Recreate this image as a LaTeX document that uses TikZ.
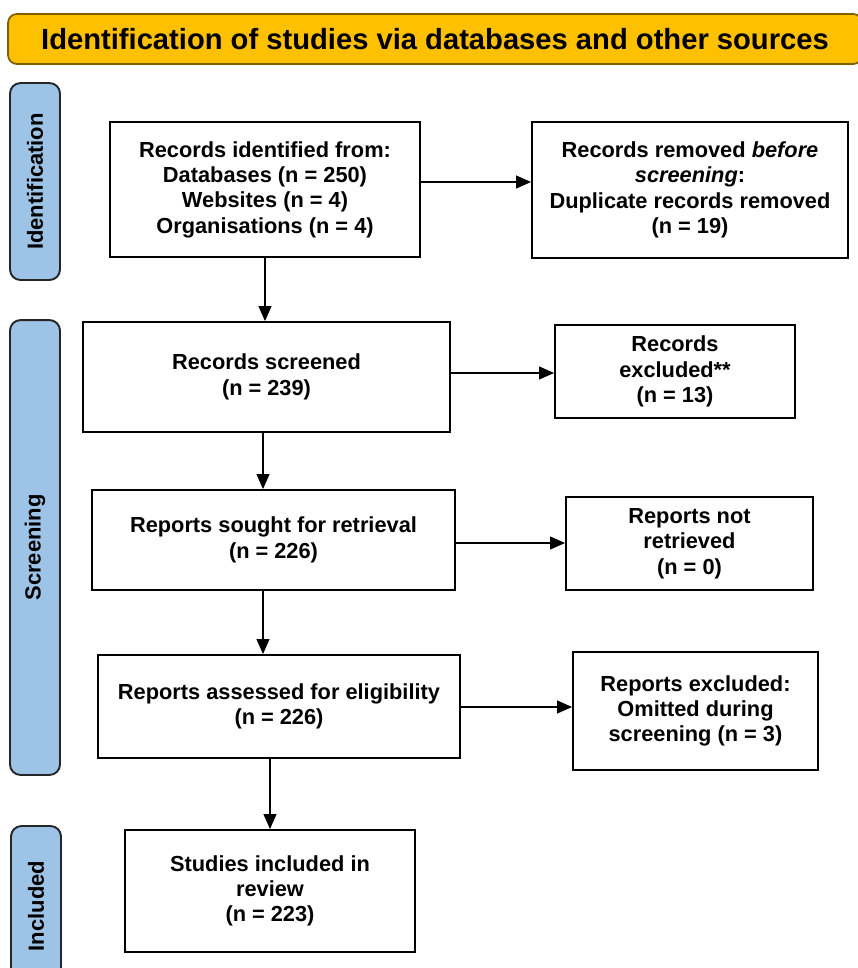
\documentclass[tikz,border=0pt]{standalone}
\usepackage{fontspec}
\setmainfont{Liberation Sans}
\usetikzlibrary{arrows.meta}
\definecolor{headercolor}{RGB}{255,192,0}
\definecolor{headerline}{RGB}{127,96,0}
\definecolor{sidecolor}{RGB}{157,195,230}

\begin{document}
\begin{tikzpicture}[x=0.02cm, y=-0.02cm,
    box/.style={draw, line width=1.1pt, align=center, inner sep=2pt,
      font=\bfseries\fontsize{12.4}{14.4}\selectfont},
    side/.style={draw=black!85, line width=1.1pt, fill=sidecolor, rounded corners=6pt,
      rotate=90, minimum height=1cm, inner sep=0pt,
      font=\bfseries\fontsize{12.5}{15}\selectfont},
    arr/.style={-{Triangle[length=0.3cm, width=0.26cm]}, line width=0.6pt}]
    \clip (0,0) rectangle (858,968);

    % Draw the header
    \node[draw=headerline, line width=1pt, fill=headercolor, rounded corners=5pt,
      minimum width=17.08cm, minimum height=1cm,
      font=\bfseries\fontsize{16.6}{19}\selectfont] (header) at (435,39)
      {Identification of studies via databases and other sources};

    % Phases on the left
    \node[side, minimum width=3.94cm] (ident) at (35,181.5) {Identification};
    \node[side, minimum width=9.1cm] (screen) at (35,547.5) {Screening};
    \node[side, minimum width=3.2cm] (incl) at (36,906) {Included};

    % Main boxes
    \node[box, minimum width=6.2cm, minimum height=2.7cm] (records) at (265,189.5)
      {Records identified from:\\ Databases (n = 250)\\ Websites (n = 4)\\ Organisations (n = 4)};
    \node[box, minimum width=7.34cm, minimum height=2.2cm] (screened) at (266.5,377)
      {Records screened\\ (n = 239)};
    \node[box, minimum width=7.26cm, minimum height=2cm] (sought) at (273.5,540)
      {Reports sought for retrieval\\ (n = 226)};
    \node[box, minimum width=7.24cm, minimum height=2.06cm] (assessed) at (279,706.5)
      {Reports assessed for eligibility\\ (n = 226)};
    \node[box, minimum width=5.8cm, minimum height=2.44cm] (included) at (270,891)
      {Studies included in\\ review\\ (n = 223)};

    % Side boxes
    \node[box, minimum width=6.32cm, minimum height=2.72cm] (removed) at (690,190)
      {Records removed \textit{before}\\ \textit{screening}:\\ Duplicate records removed\\ (n = 19)};
    \node[box, minimum width=4.8cm, minimum height=1.86cm] (excluded) at (675,371.5)
      {Records\\ excluded**\\ (n = 13)};
    \node[box, minimum width=4.94cm, minimum height=1.86cm] (notret) at (689.5,543.5)
      {Reports not\\ retrieved\\ (n = 0)};
    \node[box, minimum width=4.9cm, minimum height=2.36cm] (repexcl) at (695.5,711)
      {Reports excluded:\\ Omitted during\\ screening (n = 3)};

    % Arrows down
    \draw[arr] (records.south) -- (records.south |- screened.north);
    \draw[arr] (screened.south -| 263,0) -- (sought.north -| 263,0);
    \draw[arr] (sought.south -| 263,0) -- (assessed.north -| 263,0);
    \draw[arr] (assessed.south -| 270,0) -- (included.north -| 270,0);

    % Arrows to the right
    \draw[arr] (records.east |- 0,182) -- (removed.west |- 0,182);
    \draw[arr] (screened.east |- 0,373) -- (excluded.west |- 0,373);
    \draw[arr] (sought.east |- 0,543) -- (notret.west |- 0,543);
    \draw[arr] (assessed.east |- 0,707) -- (repexcl.west |- 0,707);
\end{tikzpicture}
\end{document}
